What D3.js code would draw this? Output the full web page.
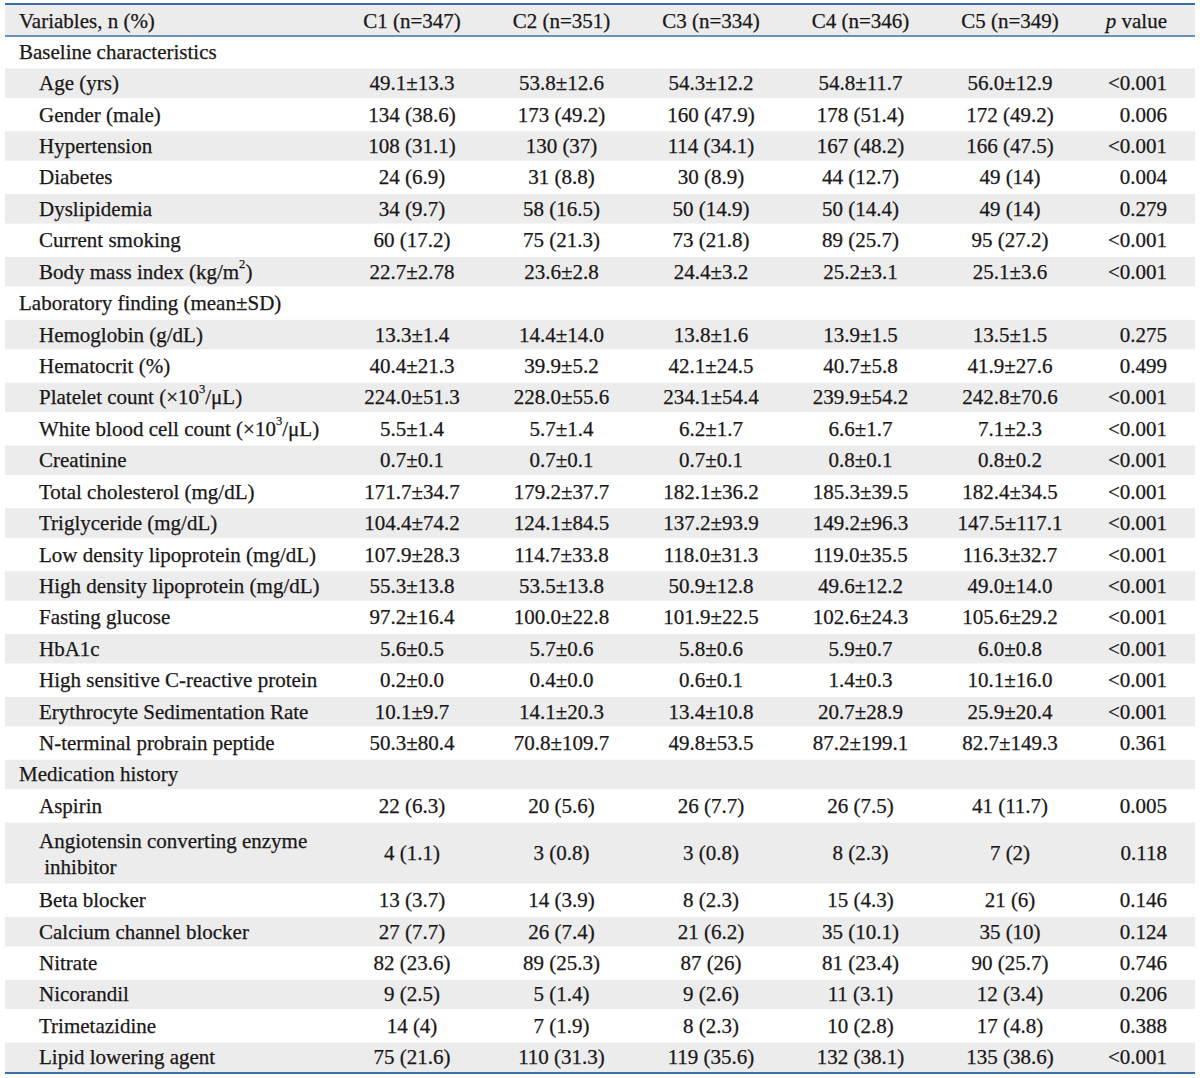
<!DOCTYPE html>
<html>
<head>
<meta charset="utf-8">
<script src="https://cdn.jsdelivr.net/npm/d3@7/dist/d3.min.js"></script>
<style>
  html, body { margin: 0; padding: 0; background: #fff; }
  text { font-family: "Liberation Serif", "Times New Roman", serif; fill: #1a1718; stroke: #1a1718; stroke-width: 0.25px; }
</style>
</head>
<body>
<svg id="chart" width="1200" height="1078"></svg>
<script>
// ---- data ----
const headers = ["C1 (n=347)", "C2 (n=351)", "C3 (n=334)", "C4 (n=346)", "C5 (n=349)"];
const columns = ["C1", "C2", "C3", "C4", "C5"];

// row type: "s" = section heading, "i" = item
const rowTypes = ["s","i","i","i","i","i","i","i","s","i","i","i","i","i","i","i","i","i","i","i","i","i","i","s","i","i","i","i","i","i","i","i"];
const rowLabels = [
  "Baseline characteristics",
  "Age (yrs)",
  "Gender (male)",
  "Hypertension",
  "Diabetes",
  "Dyslipidemia",
  "Current smoking",
  "Body mass index (kg/m|2|)",
  "Laboratory finding (mean±SD)",
  "Hemoglobin (g/dL)",
  "Hematocrit (%)",
  "Platelet count (×10|3|/μL)",
  "White blood cell count (×10|3|/μL)",
  "Creatinine",
  "Total cholesterol (mg/dL)",
  "Triglyceride (mg/dL)",
  "Low density lipoprotein (mg/dL)",
  "High density lipoprotein (mg/dL)",
  "Fasting glucose",
  "HbA1c",
  "High sensitive C-reactive protein",
  "Erythrocyte Sedimentation Rate",
  "N-terminal probrain peptide",
  "Medication history",
  "Aspirin",
  "Angiotensin converting enzyme\n inhibitor",
  "Beta blocker",
  "Calcium channel blocker",
  "Nitrate",
  "Nicorandil",
  "Trimetazidine",
  "Lipid lowering agent"
];
const c1 = ["", "49.1±13.3","134 (38.6)","108 (31.1)","24 (6.9)","34 (9.7)","60 (17.2)","22.7±2.78","",
  "13.3±1.4","40.4±21.3","224.0±51.3","5.5±1.4","0.7±0.1","171.7±34.7","104.4±74.2","107.9±28.3","55.3±13.8","97.2±16.4","5.6±0.5","0.2±0.0","10.1±9.7","50.3±80.4","",
  "22 (6.3)","4 (1.1)","13 (3.7)","27 (7.7)","82 (23.6)","9 (2.5)","14 (4)","75 (21.6)"];
const c2 = ["", "53.8±12.6","173 (49.2)","130 (37)","31 (8.8)","58 (16.5)","75 (21.3)","23.6±2.8","",
  "14.4±14.0","39.9±5.2","228.0±55.6","5.7±1.4","0.7±0.1","179.2±37.7","124.1±84.5","114.7±33.8","53.5±13.8","100.0±22.8","5.7±0.6","0.4±0.0","14.1±20.3","70.8±109.7","",
  "20 (5.6)","3 (0.8)","14 (3.9)","26 (7.4)","89 (25.3)","5 (1.4)","7 (1.9)","110 (31.3)"];
const c3 = ["", "54.3±12.2","160 (47.9)","114 (34.1)","30 (8.9)","50 (14.9)","73 (21.8)","24.4±3.2","",
  "13.8±1.6","42.1±24.5","234.1±54.4","6.2±1.7","0.7±0.1","182.1±36.2","137.2±93.9","118.0±31.3","50.9±12.8","101.9±22.5","5.8±0.6","0.6±0.1","13.4±10.8","49.8±53.5","",
  "26 (7.7)","3 (0.8)","8 (2.3)","21 (6.2)","87 (26)","9 (2.6)","8 (2.3)","119 (35.6)"];
const c4 = ["", "54.8±11.7","178 (51.4)","167 (48.2)","44 (12.7)","50 (14.4)","89 (25.7)","25.2±3.1","",
  "13.9±1.5","40.7±5.8","239.9±54.2","6.6±1.7","0.8±0.1","185.3±39.5","149.2±96.3","119.0±35.5","49.6±12.2","102.6±24.3","5.9±0.7","1.4±0.3","20.7±28.9","87.2±199.1","",
  "26 (7.5)","8 (2.3)","15 (4.3)","35 (10.1)","81 (23.4)","11 (3.1)","10 (2.8)","132 (38.1)"];
const c5 = ["", "56.0±12.9","172 (49.2)","166 (47.5)","49 (14)","49 (14)","95 (27.2)","25.1±3.6","",
  "13.5±1.5","41.9±27.6","242.8±70.6","7.1±2.3","0.8±0.2","182.4±34.5","147.5±117.1","116.3±32.7","49.0±14.0","105.6±29.2","6.0±0.8","10.1±16.0","25.9±20.4","82.7±149.3","",
  "41 (11.7)","7 (2)","21 (6)","35 (10)","90 (25.7)","12 (3.4)","17 (4.8)","135 (38.6)"];
const pValues = ["", "<0.001","0.006","<0.001","0.004","0.279","<0.001","<0.001","",
  "0.275","0.499","<0.001","<0.001","<0.001","<0.001","<0.001","<0.001","<0.001","<0.001","<0.001","<0.001","<0.001","0.361","",
  "0.005","0.118","0.146","0.124","0.746","0.206","0.388","<0.001"];

// ---- layout ----
const svg = d3.select("#chart");
const left = 5, right = 1195;
const headTop = 5, headBottom = 36;
const tableBottom = 1073;
const fs = 21;

const spans = rowLabels.map(l => l.includes("\n") ? 2 : 1);
const totalUnits = d3.sum(spans);
const cum = [0];
spans.forEach((s, i) => cum.push(cum[i] + s));
const y = d3.scaleLinear().domain([0, totalUnits]).range([headBottom, tableBottom]);
const x = d3.scalePoint().domain(columns).range([412, 1010]);
const pRight = 1167;

const rows = rowLabels.map((label, i) => ({
  i, label, type: rowTypes[i],
  y0: y(cum[i]), y1: y(cum[i + 1]),
  vals: [c1[i], c2[i], c3[i], c4[i], c5[i]],
  p: pValues[i]
}));

// header background
svg.append("rect").attr("x", left).attr("y", headTop).attr("width", right - left)
  .attr("height", headBottom - headTop).attr("fill", "#ececec");

// band backgrounds
svg.selectAll("rect.band").data(rows.filter(r => r.i % 2 === 1)).join("rect")
  .attr("class", "band")
  .attr("x", left).attr("width", right - left)
  .attr("y", d => d.y0 + 1).attr("height", d => d.y1 - d.y0 - 2)
  .attr("fill", "#ececec");

// rules
const lineColor = "#3b6fa6";
[headTop - 1, headBottom, tableBottom].forEach((yy, k) => {
  svg.append("line").attr("x1", left).attr("x2", right).attr("y1", yy).attr("y2", yy)
    .attr("stroke", lineColor).attr("stroke-width", k === 1 ? 1.5 : 1.8);
});

// header text
const hy = (headTop + headBottom) / 2;
svg.append("text").attr("x", 19).attr("y", hy).attr("dominant-baseline", "central")
  .attr("font-size", fs).text("Variables, n (%)");
svg.selectAll("text.hcol").data(headers).join("text").attr("class", "hcol")
  .attr("x", (d, i) => x(columns[i])).attr("y", hy).attr("text-anchor", "middle")
  .attr("dominant-baseline", "central").attr("font-size", fs).text(d => d);
const pt = svg.append("text").attr("x", pRight).attr("y", hy).attr("text-anchor", "end")
  .attr("dominant-baseline", "central").attr("font-size", fs);
pt.append("tspan").attr("font-style", "italic").text("p");
pt.append("tspan").text(" value");

// labels
function addLabel(g, str) {
  const parts = str.split("|");
  parts.forEach((p, k) => {
    if (k % 2 === 1) {
      g.append("tspan").attr("font-size", fs * 0.6).attr("dy", -8).text(p);
    } else {
      const t = g.append("tspan").text(p);
      if (k > 0) t.attr("dy", 8);
    }
  });
}
rows.forEach(r => {
  const cy = (r.y0 + r.y1) / 2;
  const lx = r.type === "s" ? 19 : 39;
  if (r.label.includes("\n")) {
    const [a, b] = r.label.split("\n");
    svg.append("text").attr("x", lx).attr("y", cy - 12).attr("dominant-baseline", "central")
      .attr("font-size", fs).text(a);
    svg.append("text").attr("x", lx).attr("y", cy + 14).attr("dominant-baseline", "central")
      .attr("font-size", fs).attr("xml:space", "preserve").style("white-space", "pre").text(b);
  } else {
    const t = svg.append("text").attr("x", lx).attr("y", cy).attr("dominant-baseline", "central")
      .attr("font-size", fs);
    addLabel(t, r.label);
  }
  svg.selectAll(null).data(r.vals).join("text")
    .attr("x", (d, k) => x(columns[k])).attr("y", cy)
    .attr("text-anchor", "middle").attr("dominant-baseline", "central")
    .attr("font-size", fs).text(d => d);
  svg.append("text").attr("x", pRight).attr("y", cy).attr("text-anchor", "end")
    .attr("dominant-baseline", "central").attr("font-size", fs).text(r.p);
});
</script>
</body>
</html>
